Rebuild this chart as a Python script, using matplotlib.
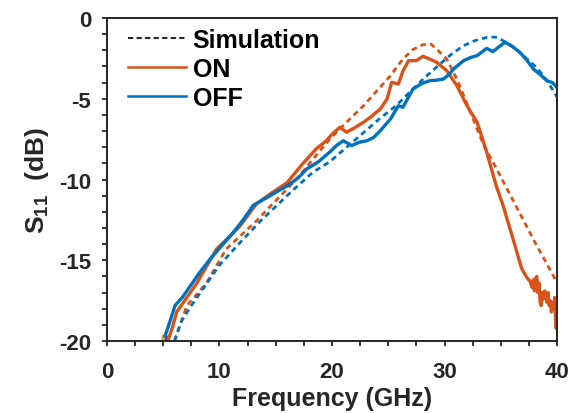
import matplotlib
matplotlib.use("Agg")
import matplotlib.pyplot as plt
from matplotlib.ticker import MultipleLocator

plt.rcParams['font.family'] = ['Liberation Sans', 'DejaVu Sans']
plt.rcParams['font.weight'] = 'bold'
plt.rcParams['axes.unicode_minus'] = False
plt.rcParams['mathtext.fontset'] = 'custom'
plt.rcParams['mathtext.rm'] = 'Liberation Sans:bold'
plt.rcParams['mathtext.bf'] = 'Liberation Sans:bold'
plt.rcParams['mathtext.it'] = 'Liberation Sans:bold'

ORANGE = '#D95319'
BLUE = '#0072BD'
YELLOW = '#EDB120'
PURPLE = '#7E2F8E'
INK = '#262626'

# Measured ON
on_f = [5.4, 5.8, 6.2, 7.0, 8.0, 9.0, 9.75, 10.8, 11.8, 13.3, 14.5, 16.0, 17.3, 18.6, 19.5,
        20.0, 20.7, 21.3, 22.0, 22.8, 23.5, 24.3, 24.9, 25.3, 25.9, 26.3, 26.8, 27.5, 28.1,
        28.7, 29.3, 30.2, 31.1, 32.0, 32.9, 33.75, 34.6, 35.2, 36.1, 36.85, 37.3, 37.6,
        37.8, 37.9, 38.0, 38.1, 38.2, 38.3, 38.4, 38.5, 38.6, 38.7, 38.8, 38.9, 39.0, 39.1,
        39.2, 39.3, 39.4, 39.5, 39.6, 39.7, 39.8, 39.9, 39.97, 40.0]
on_s = [-20.0, -19.2, -18.2, -17.4, -16.4, -15.2, -14.3, -13.6, -12.9, -11.5, -10.9, -10.2, -9.1, -8.1, -7.6,
        -7.2, -6.77, -7.07, -6.8, -6.46, -6.1, -5.63, -5.0, -3.98, -4.09, -3.3, -2.64, -2.64, -2.37,
        -2.55, -2.74, -3.26, -4.19, -5.43, -6.46, -8.3, -10.4, -11.6, -13.7, -15.5, -16.05, -16.3,
        -16.7, -16.2, -16.9, -16.1, -16.0, -17.0, -16.4, -17.6, -17.8, -17.0, -17.4, -16.9, -17.1, -17.6,
        -17.0, -17.8, -17.5, -18.2, -17.6, -18.0, -17.3, -19.2, -19.05, -17.8]

# Simulated ON
sim_on_f = [6.0, 6.5, 7.1, 8.0, 8.85, 10.6, 12.0, 13.3, 14.6, 16.0, 17.3, 18.6, 19.8, 21.3, 22.8,
            24.0, 25.2, 26.3, 27.2, 28.1, 28.8, 29.3, 30.2, 31.1, 32.3, 33.5, 34.6, 35.5, 36.7,
            38.2, 39.4, 40.0]
sim_on_s = [-20.0, -19.0, -17.8, -17.1, -16.4, -14.3, -13.4, -12.55, -11.6, -10.6, -9.6, -8.5, -7.5,
            -6.45, -5.43, -4.5, -3.57, -2.54, -1.95, -1.65, -1.62, -1.92, -2.54, -3.78, -5.84, -7.9,
            -9.3, -10.5, -12.1, -14.1, -15.6, -16.4]

# Measured OFF
off_f = [5.15, 5.5, 6.05, 6.7, 7.4, 8.3, 9.2, 10.2, 11.2, 12.1, 13.0, 14.5, 16.0, 17.0, 17.75,
         18.8, 19.8, 20.4, 21.0, 21.75, 22.4, 23.1, 23.7, 24.3, 25.2, 25.9, 26.3, 26.8, 27.2,
         28.0, 28.7, 29.3, 29.9, 30.4, 30.8, 31.7, 32.3, 32.9, 33.75, 34.3, 34.9, 35.4, 36.0,
         36.7, 37.3, 37.9, 38.5, 39.1, 39.6, 40.0]
off_s = [-19.7, -19.0, -17.8, -17.3, -16.6, -15.7, -14.9, -14.1, -13.3, -12.5, -11.6, -11.0, -10.4,
         -9.9, -9.35, -8.9, -8.3, -7.9, -7.6, -7.9, -7.7, -7.6, -7.4, -6.97, -6.25, -5.43, -5.53,
         -4.9, -4.4, -4.05, -3.88, -3.85, -3.78, -3.5, -3.16, -2.64, -2.45, -2.33, -1.88, -2.08,
         -1.75, -1.5, -1.75, -2.12, -2.6, -3.16, -3.5, -3.88, -4.0, -4.3]

# Simulated OFF
sim_off_f = [6.0, 6.6, 7.4, 8.3, 10.0, 12.1, 13.6, 15.1, 16.7, 18.3, 19.8, 21.3, 22.8, 24.2, 25.7,
             26.9, 28.1, 29.6, 30.6, 31.7, 32.7, 33.75, 34.5, 35.2, 36.1, 37.0, 38.0, 38.8, 39.4, 40.0]
sim_off_s = [-20.0, -18.8, -17.9, -17.0, -15.3, -13.7, -12.6, -11.6, -10.55, -9.55, -8.9, -8.0, -7.1,
             -6.25, -5.43, -4.6, -3.78, -2.85, -2.25, -1.71, -1.4, -1.2, -1.18, -1.4, -1.8, -2.33,
             -2.95, -3.57, -4.2, -4.9]

# Other traces, visible only where they poke above -20 dB
extra1_f = [4.7, 5.0]
extra1_s = [-20.6, -19.7]
extra2_f = [5.0, 5.3]
extra2_s = [-20.6, -19.75]

legend_labels = ['Simulation', 'ON', 'OFF']

fig = plt.figure(figsize=(5.73, 4.14), dpi=100)
ax = fig.add_axes([0.1867, 0.1739, 0.9721 - 0.1867, 0.9541 - 0.1739])

ax.plot(extra1_f, extra1_s, color=YELLOW, lw=2.2)
ax.plot(extra2_f, extra2_s, color=PURPLE, lw=2.2)

dash = (0, (2.0, 1.5))
ax.plot(sim_on_f, sim_on_s, color=ORANGE, lw=2.0, linestyle=dash)
ax.plot(sim_off_f, sim_off_s, color=BLUE, lw=2.0, linestyle=dash)
ax.plot(on_f, on_s, color=ORANGE, lw=2.4)
ax.plot(off_f, off_s, color=BLUE, lw=2.4)

h1, = ax.plot([], [], color=INK, lw=1.5, linestyle=(0, (2.5, 1.6)))
h2, = ax.plot([], [], color=ORANGE, lw=1.8)
h3, = ax.plot([], [], color=BLUE, lw=1.8)
ax.legend([h1, h2, h3], legend_labels, loc='upper left', frameon=False,
          prop={'size': 18, 'weight': 'bold'}, handlelength=2.35, handletextpad=0.25,
          labelspacing=0.2, borderpad=0.0, borderaxespad=0.0,
          bbox_to_anchor=(0.046, 0.97))

ax.set_xlim(0, 40)
ax.set_ylim(-20, 0)
ax.xaxis.set_major_locator(MultipleLocator(10))
ax.xaxis.set_minor_locator(MultipleLocator(2.5))
ax.yaxis.set_major_locator(MultipleLocator(5))
ax.yaxis.set_minor_locator(MultipleLocator(1))
ax.tick_params(which='both', direction='out', top=False, right=False, labelsize=16, width=1.3,
               colors=INK, length=3.5)
ax.tick_params(axis='x', which='both', pad=11)
ax.tick_params(axis='y', which='both', pad=8)
for sp in ax.spines.values():
    sp.set_linewidth(1.4)
    sp.set_color(INK)
for lab in ax.get_xticklabels() + ax.get_yticklabels():
    lab.set_fontweight('bold')

ax.set_xlabel('Frequency (GHz)', fontsize=18, fontweight='bold', labelpad=3, color=INK)
ax.set_ylabel(r'S$_{11}$  (dB)', fontsize=19, fontweight='bold', labelpad=6, color=INK)

fig.savefig('out.png', dpi=100)
